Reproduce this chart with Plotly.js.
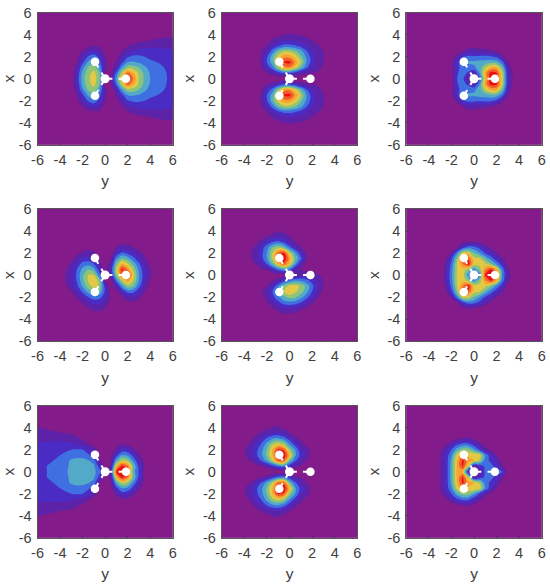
<!DOCTYPE html>
<html>
<head>
<meta charset="utf-8">
<script src="https://cdn.plot.ly/plotly-3.0.1.min.js"></script>
<style>html,body{margin:0;padding:0;background:#fff}</style>
</head>
<body>
<div id="chart" style="width:550px;height:587px"></div>
<script>
// Shared sample coordinates: finer near the molecule, coarse at the edges.
const GRID = [-6,-5,-4,-3.5,-3,-2.5,-2,-1.5,-1,-0.5,0,0.5,1,1.5,2,2.5,3,3.5,4,5,6];
const TICKS = [-6,-4,-2,0,2,4,6];
const LEVELS = ["#841b8a","#5c22a8","#4a2cc4","#3f6fe0","#52a9c8","#8cc47a","#e3c845","#f9a030","#f0602a","#ee1010"];

// Atoms and the broken bonds drawn from the centre to each of them.
const ATOM_Y = [0,1.85,-0.9,-0.9];
const ATOM_X = [0,0,1.55,-1.55];
const BOND_Y = [0,0.65,null,1.2,1.85,null,0,-0.33,null,-0.6,-0.9,null,0,-0.33,null,-0.6,-0.9];
const BOND_X = [0,0,null,0,0,null,0,0.56,null,1.03,1.55,null,0,-0.56,null,-1.03,-1.55];

const E = [0,0,0,0,0,0,0,0,0,0,0,0,0,0,0,0,0,0,0,0,0];

// Each grid: rows from x=6 (top) down to x=-6, columns from y=-6 to y=6.
const zA = [E,E,
[0,0,0,0,0,0,0,0,0,0,0,0,0,0,0,0,0,2,4,7,8],
[0,0,0,0,0,0,0,0,0,0,0,0,0,0,2,4,7,8,10,12,13],
[0,0,0,0,0,0,2,7,9,8,2,0,0,5,9,13,15,16,17,18,18],
[0,0,0,0,0,2,10,18,23,17,6,0,2,10,17,22,24,24,24,23,21],
[0,0,0,0,0,7,20,31,36,27,11,0,6,18,29,32,32,30,27,25,22],
[0,0,0,0,0,10,27,42,46,33,13,1,11,27,40,41,39,36,33,28,23],
[0,0,0,0,1,17,38,52,56,42,14,3,18,42,56,55,50,42,37,32,24],
[0,0,0,0,2,21,44,56,64,50,5,7,33,60,85,72,58,47,39,34,25],
[0,0,0,0,3,23,46,58,66,52,6,11,42,72,99,80,59,48,40,35,25],
[0,0,0,0,2,21,44,56,64,50,5,7,33,60,85,72,58,47,39,34,25],
[0,0,0,0,1,17,38,52,56,42,14,3,18,42,56,55,50,42,37,32,24],
[0,0,0,0,0,10,27,42,46,33,13,1,11,27,40,41,39,36,33,28,23],
[0,0,0,0,0,7,20,31,36,27,11,0,6,18,29,32,32,30,27,25,22],
[0,0,0,0,0,2,10,18,23,17,6,0,2,10,17,22,24,24,24,23,21],
[0,0,0,0,0,0,2,7,9,8,2,0,0,5,9,13,15,16,17,18,18],
[0,0,0,0,0,0,0,0,0,0,0,0,0,0,2,4,7,8,10,12,13],
[0,0,0,0,0,0,0,0,0,0,0,0,0,0,0,0,0,2,4,7,8],
E,E];

const zB = [E,E,
[0,0,0,0,0,0,0,4,7,10,11,10,9,6,3,1,0,0,0,0,0],
[0,0,0,0,0,0,4,12,15,19,20,19,17,14,10,5,2,0,0,0,0],
[0,0,0,0,0,4,11,20,28,33,33,31,26,21,15,11,7,1,0,0,0],
[0,0,0,0,2,9,20,35,50,58,58,52,44,31,22,15,10,2,0,0,0],
[0,0,0,0,3,11,28,47,65,76,76,66,52,38,25,16,11,2,0,0,0],
[0,0,0,0,3,11,30,46,70,92,94,77,60,40,25,16,11,2,0,0,0],
[0,0,0,0,1,9,22,35,56,75,78,65,48,32,20,14,8,1,0,0,0],
[0,0,0,0,0,3,10,16,22,30,28,22,15,12,10,8,3,0,0,0,0],
E,
[0,0,0,0,0,3,10,16,22,30,28,22,15,12,10,8,3,0,0,0,0],
[0,0,0,0,1,9,22,35,56,75,78,65,48,32,20,14,8,1,0,0,0],
[0,0,0,0,3,11,30,46,70,92,94,77,60,40,25,16,11,2,0,0,0],
[0,0,0,0,3,11,28,47,65,76,76,66,52,38,25,16,11,2,0,0,0],
[0,0,0,0,2,9,20,35,50,58,58,52,44,31,22,15,10,2,0,0,0],
[0,0,0,0,0,4,11,20,28,33,33,31,26,21,15,11,7,1,0,0,0],
[0,0,0,0,0,0,4,12,15,19,20,19,17,14,10,5,2,0,0,0,0],
[0,0,0,0,0,0,0,4,7,10,11,10,9,6,3,1,0,0,0,0,0],
E,E];

const zC = [E,E,E,E,
[0,0,0,0,0,0,0,0,2,6,6,4,3,2,0,0,0,0,0,0,0],
[0,0,0,0,0,0,0,3,10,16,16,15,14,12,8,2,0,0,0,0,0],
[0,0,0,0,0,0,2,14,29,33,32,32,33,32,28,14,2,0,0,0,0],
[0,0,0,0,0,0,6,26,38,42,42,44,44,47,46,34,11,1,0,0,0],
[0,0,0,0,0,0,6,27,34,36,38,44,60,72,72,50,18,4,0,0,0],
[0,0,0,0,0,0,4,29,34,28,18,40,75,95,92,62,21,7,1,0,0],
[0,0,0,0,0,0,3,30,33,14,4,30,68,98,92,62,22,8,2,0,0],
[0,0,0,0,0,0,4,29,34,28,18,40,75,95,92,62,21,7,1,0,0],
[0,0,0,0,0,0,6,27,34,36,38,44,60,72,72,50,18,4,0,0,0],
[0,0,0,0,0,0,6,26,38,42,42,44,44,47,46,34,11,1,0,0,0],
[0,0,0,0,0,0,2,14,29,33,32,32,33,32,28,14,2,0,0,0,0],
[0,0,0,0,0,0,0,3,10,16,16,15,14,12,8,2,0,0,0,0,0],
[0,0,0,0,0,0,0,0,2,6,6,4,3,2,0,0,0,0,0,0,0],
E,E,E,E];

const zD = [E,E,E,E,
[0,0,0,0,0,0,0,0,0,0,0,0,2,6,5,2,0,0,0,0,0],
[0,0,0,0,0,1,4,6,4,0,0,1,11,17,15,11,6,1,0,0,0],
[0,0,0,0,0,7,12,15,12,3,0,3,22,32,28,22,14,7,1,0,0],
[0,0,0,0,7,15,23,24,19,8,1,8,38,51,45,33,23,12,4,0,0],
[0,0,0,3,13,24,34,36,30,14,3,15,52,72,62,47,32,18,8,0,0],
[0,0,0,8,17,30,43,50,44,24,5,22,60,93,80,58,38,22,11,0,0],
[0,0,0,11,19,32,48,60,60,35,2,16,55,85,98,64,40,24,11,0,0],
[0,0,0,11,19,31,47,61,68,55,8,5,35,60,75,60,40,22,9,0,0],
[0,0,0,8,16,27,42,56,64,58,25,1,18,40,56,50,34,17,5,0,0],
[0,0,0,3,10,20,32,44,51,48,28,6,7,22,34,33,23,10,1,0,0],
[0,0,0,0,4,12,20,30,36,34,24,8,2,9,17,19,12,4,0,0,0],
[0,0,0,0,0,5,11,18,23,23,17,6,0,2,7,9,4,0,0,0,0],
[0,0,0,0,0,0,4,10,14,14,10,2,0,0,1,2,0,0,0,0,0],
[0,0,0,0,0,0,0,3,6,7,4,0,0,0,0,0,0,0,0,0,0],
E,E,E];

const zE = [E,E,
[0,0,0,0,0,0,0,5,9,7,3,0,0,0,0,0,0,0,0,0,0],
[0,0,0,0,0,5,11,15,18,16,11,5,1,0,0,0,0,0,0,0,0],
[0,0,0,0,6,14,24,30,33,28,19,10,4,0,0,0,0,0,0,0,0],
[0,0,0,5,13,24,36,50,58,50,34,21,11,4,0,0,0,0,0,0,0],
[0,0,0,8,16,26,40,60,85,92,62,42,24,9,1,0,0,0,0,0,0],
[0,0,0,8,16,26,40,60,92,99,76,50,33,11,1,0,0,0,0,0,0],
[0,0,0,4,10,19,30,48,70,86,68,40,20,6,0,0,0,0,0,0,0],
[0,0,0,0,3,8,11,22,34,42,35,18,10,5,6,2,0,0,0,0,0],
[0,0,0,0,0,0,1,3,3,3,4,7,16,18,16,12,2,0,0,0,0],
[0,0,0,0,0,0,2,8,15,27,33,40,38,33,26,17,10,0,0,0,0],
[0,0,0,0,0,3,10,22,37,52,64,64,58,47,33,20,10,0,0,0,0],
[0,0,0,0,0,8,17,30,46,60,71,62,55,44,30,17,7,0,0,0,0],
[0,0,0,0,0,6,14,26,38,48,54,52,44,34,22,11,3,0,0,0,0],
[0,0,0,0,0,3,9,18,27,35,37,35,30,20,12,5,0,0,0,0,0],
[0,0,0,0,0,0,3,9,15,20,21,19,14,9,3,0,0,0,0,0,0],
[0,0,0,0,0,0,0,3,7,10,10,8,3,0,0,0,0,0,0,0,0],
E,E,E];

const zF = [E,E,E,E,
[0,0,0,0,0,0,0,2,8,11,10,7,2,0,0,0,0,0,0,0,0],
[0,0,0,0,0,0,1,10,26,36,34,27,18,8,2,0,0,0,0,0,0],
[0,0,0,0,0,1,12,38,64,64,50,40,29,21,11,3,0,0,0,0,0],
[0,0,0,0,0,8,27,52,92,88,64,62,48,35,23,12,3,0,0,0,0],
[0,0,0,0,0,13,33,60,80,96,66,64,63,52,38,24,6,0,0,0,0],
[0,0,0,0,0,16,36,61,66,55,38,55,78,92,72,36,14,0,0,0,0],
[0,0,0,0,0,17,37,62,66,38,0,35,92,99,90,39,18,0,0,0,0],
[0,0,0,0,0,16,36,61,66,55,38,55,78,92,72,36,14,0,0,0,0],
[0,0,0,0,0,13,33,60,80,96,66,64,63,52,38,24,6,0,0,0,0],
[0,0,0,0,0,8,27,52,92,88,64,62,48,35,23,12,3,0,0,0,0],
[0,0,0,0,0,1,12,38,64,64,50,40,29,21,11,3,0,0,0,0,0],
[0,0,0,0,0,0,1,10,26,36,34,27,18,8,2,0,0,0,0,0,0],
[0,0,0,0,0,0,0,2,8,11,10,7,2,0,0,0,0,0,0,0,0],
E,E,E,E];

const zG = [E,E,
[11,8,4,2,0,0,0,0,0,0,0,0,0,0,0,0,0,0,0,0,0],
[14,13,11,10,9,6,3,0,0,0,0,0,0,0,0,0,0,0,0,0,0],
[18,18,17,16,15,12,9,5,1,0,0,0,0,0,0,0,0,0,0,0,0],
[21,22,23,23,22,19,16,11,6,0,0,1,6,9,8,4,1,0,0,0,0],
[23,25,26,28,30,31,30,24,16,4,0,2,13,24,22,13,5,0,0,0,0],
[24,26,30,33,37,37,36,32,24,8,1,4,26,41,38,26,12,2,0,0,0],
[24,28,33,38,41,43,43,41,36,12,2,8,44,62,57,38,20,6,0,0,0],
[25,31,35,38,42,45,46,45,42,26,3,12,70,94,82,50,27,9,0,0,0],
[25,31,36,39,42,46,47,46,43,34,5,16,92,99,92,45,29,10,0,0,0],
[25,31,35,38,42,45,46,45,42,26,3,12,70,94,82,50,27,9,0,0,0],
[24,28,33,38,41,43,43,41,36,12,2,8,44,62,57,38,20,6,0,0,0],
[24,26,30,33,37,37,36,32,24,8,1,4,26,41,38,26,12,2,0,0,0],
[23,25,26,28,30,31,30,24,16,4,0,2,13,24,22,13,5,0,0,0,0],
[21,22,23,23,22,19,16,11,6,0,0,1,6,9,8,4,1,0,0,0,0],
[18,18,17,16,15,12,9,5,1,0,0,0,0,0,0,0,0,0,0,0,0],
[14,13,11,10,9,6,3,0,0,0,0,0,0,0,0,0,0,0,0,0,0],
[11,8,4,2,0,0,0,0,0,0,0,0,0,0,0,0,0,0,0,0,0],
E,E];

const zH = [E,E,
[0,0,0,0,0,3,7,11,11,8,3,0,0,0,0,0,0,0,0,0,0],
[0,0,0,1,6,12,17,21,22,18,11,4,0,0,0,0,0,0,0,0,0],
[0,0,0,7,14,22,32,40,42,36,25,14,8,2,0,0,0,0,0,0,0],
[0,0,5,12,21,31,44,58,65,58,40,26,14,6,0,0,0,0,0,0,0],
[0,0,9,16,26,36,50,70,92,88,56,40,22,15,6,0,0,0,0,0,0],
[0,0,9,16,27,37,52,70,98,98,72,42,26,16,6,0,0,0,0,0,0],
[0,0,4,10,19,30,43,60,84,86,50,32,18,10,2,0,0,0,0,0,0],
[0,0,0,0,4,10,16,25,34,36,24,14,9,3,0,0,0,0,0,0,0],
E,
[0,0,0,0,4,10,16,25,34,36,24,14,9,3,0,0,0,0,0,0,0],
[0,0,4,10,19,30,43,60,84,86,50,32,18,10,2,0,0,0,0,0,0],
[0,0,9,16,27,37,52,70,98,98,72,42,26,16,6,0,0,0,0,0,0],
[0,0,9,16,26,36,50,70,92,88,56,40,22,15,6,0,0,0,0,0,0],
[0,0,5,12,21,31,44,58,65,58,40,26,14,6,0,0,0,0,0,0,0],
[0,0,0,7,14,22,32,40,42,36,25,14,8,2,0,0,0,0,0,0,0],
[0,0,0,1,6,12,17,21,22,18,11,4,0,0,0,0,0,0,0,0,0],
[0,0,0,0,0,3,7,11,11,8,3,0,0,0,0,0,0,0,0,0,0],
E,E];

const zI = [E,E,E,E,
[0,0,0,0,0,0,3,8,12,13,9,3,0,0,0,0,0,0,0,0,0],
[0,0,0,0,1,8,18,28,34,33,24,13,5,0,0,0,0,0,0,0,0],
[0,0,0,0,6,18,30,45,55,55,42,28,15,8,1,0,0,0,0,0,0],
[0,0,0,0,10,23,38,64,78,68,70,66,38,24,10,2,0,0,0,0,0],
[0,0,0,0,11,23,43,70,93,75,70,58,34,28,18,6,0,0,0,0,0],
[0,0,0,0,11,23,44,72,92,60,12,24,32,33,26,12,1,0,0,0,0],
[0,0,0,0,11,23,44,72,70,18,2,12,33,36,36,30,2,0,0,0,0],
[0,0,0,0,11,23,44,72,92,60,12,24,32,33,26,12,1,0,0,0,0],
[0,0,0,0,11,23,43,70,93,75,70,58,34,28,18,6,0,0,0,0,0],
[0,0,0,0,10,23,38,64,78,68,70,66,38,24,10,2,0,0,0,0,0],
[0,0,0,0,6,18,30,45,55,55,42,28,15,8,1,0,0,0,0,0,0],
[0,0,0,0,1,8,18,28,34,33,24,13,5,0,0,0,0,0,0,0,0],
[0,0,0,0,0,0,3,8,12,13,9,3,0,0,0,0,0,0,0,0,0],
E,E,E,E];

const PANELS = [zA,zB,zC,zD,zE,zF,zG,zH,zI];

// Pixel boxes of the axes in the 550x587 frame.
const W = 550, H = 587;
const COL_BOX = [[37.5,172.7],[221.7,357.3],[406.3,541.7]];
const ROW_BOX = [[12.7,144.7],[209,341],[405.7,537.7]];

const FONT = { family: "Liberation Sans, Arial, sans-serif", size: 14.5, color: "#404040" };
const TITLE_FONT = { family: "Liberation Sans, Arial, sans-serif", size: 15.5, color: "#404040" };

const colorscale = [];
LEVELS.forEach((c, i) => {
  colorscale.push([i / LEVELS.length, c]);
  colorscale.push([(i + 1) / LEVELS.length, c]);
});

const traces = [];
const layout = {
  width: W, height: H, showlegend: false,
  margin: { l: 0, r: 0, t: 0, b: 0 },
  paper_bgcolor: "#fff", plot_bgcolor: LEVELS[0], font: FONT,
};

PANELS.forEach((z, i) => {
  const suffix = i === 0 ? "" : String(i + 1);
  const col = i % 3, row = Math.floor(i / 3);
  const xa = "x" + suffix, ya = "y" + suffix;

  traces.push({
    type: "contour", x: GRID, y: GRID, z: z.slice().reverse(),
    xaxis: xa, yaxis: ya,
    autocontour: false, zmin: 0, zmax: 100, colorscale, showscale: false,
    contours: { coloring: "fill", start: 10, end: 90, size: 10, showlines: false },
    line: { width: 0, smoothing: 1 },
    hoverinfo: "skip",
  });
  traces.push({
    type: "scatter", mode: "lines", x: BOND_Y, y: BOND_X, xaxis: xa, yaxis: ya,
    line: { color: "#fff", width: 2 }, hoverinfo: "skip",
  });
  traces.push({
    type: "scatter", mode: "markers", x: ATOM_Y, y: ATOM_X, xaxis: xa, yaxis: ya,
    marker: { color: "#fff", opacity: 1, size: [9,8.5,8.5,8.5], line: { width: 0 } }, hoverinfo: "skip",
  });

  layout["xaxis" + suffix] = {
    domain: [COL_BOX[col][0] / W, COL_BOX[col][1] / W], anchor: ya, range: [-6, 6],
    tickvals: TICKS, ticktext: TICKS.map(String), ticks: "inside", ticklen: 1.5, tickcolor: "#404040",
    showgrid: false, zeroline: false, showline: true, mirror: true, linecolor: "#555", linewidth: 1,
    tickfont: FONT, ticklabelstandoff: 2, title: { text: "y", font: TITLE_FONT, standoff: 8 },
  };
  layout["yaxis" + suffix] = {
    domain: [1 - ROW_BOX[row][1] / H, 1 - ROW_BOX[row][0] / H], anchor: xa, range: [-6, 6],
    tickvals: TICKS, ticktext: TICKS.map(String), ticks: "inside", ticklen: 1.5, tickcolor: "#404040",
    showgrid: false, zeroline: false, showline: true, mirror: true, linecolor: "#555", linewidth: 1,
    tickfont: FONT, ticklabelstandoff: 2, title: { text: "x", font: TITLE_FONT, standoff: 4 },
  };
});

Plotly.newPlot("chart", traces, layout, { displayModeBar: false, staticPlot: true });
</script>
</body>
</html>
